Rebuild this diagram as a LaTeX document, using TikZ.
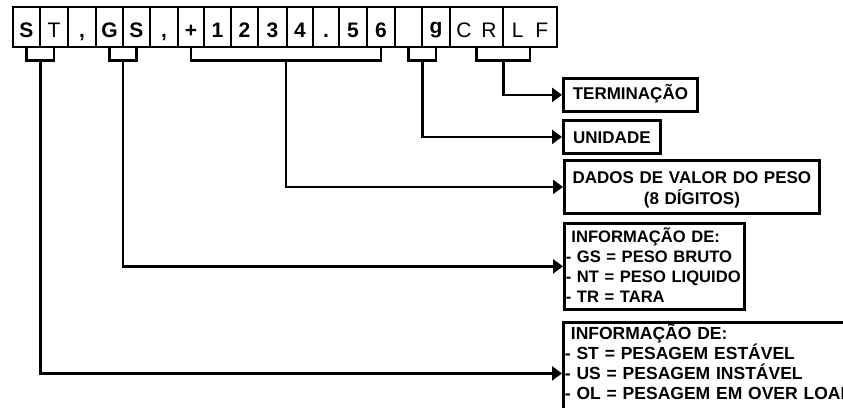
\documentclass[tikz,border=0pt]{standalone}
\usepackage{fontspec}
\setmainfont{Liberation Sans}
\usetikzlibrary{arrows.meta,calc}
\begin{document}
\begin{tikzpicture}[x=1bp,y=-1bp,
  cell/.style={draw,line width=2.8bp,inner sep=0pt,text height=30bp,text depth=10bp,
    font=\fontsize{21bp}{24bp}\selectfont\bfseries},
  link/.style={line width=2.8bp},
  arr/.style={line width=2.8bp,-{Triangle[length=10bp,width=14bp]}},
  lbl/.style={draw,line width=2.8bp,inner xsep=1.5bp,inner ysep=0pt,anchor=north west,
    font=\fontsize{17bp}{20bp}\selectfont\bfseries}]
\useasboundingbox (0,0) rectangle (843,407);
\clip (0,0) rectangle (843,407);
% top row of characters
\foreach \n/\x/\w/\t in {1/26.5/27/S, 2/54/28/{\mdseries T}, 3/82/28/{,}, 4/109.5/27/G,
  5/136.5/27/S, 6/164/28/{,}, 7/191/26/+, 8/217.5/27/1, 9/244.5/27/2, 10/272.5/29/3,
  11/300/26/4, 12/326/26/., 13/353/28/5, 14/381/28/6, 15/408.5/27/{}, 16/436/28/{\raisebox{4bp}{g}},
  17/476.5/53/{\mdseries C\hspace{10bp}R}, 18/530/54/{\mdseries L\hspace{12bp}F}}
  \node[cell,minimum width=\w bp] (c\n) at (\x,27) {\t};
% description boxes
\node[lbl,minimum width=134bp,text height=21bp,text depth=12bp] (term) at (562,77) {TERMINAÇÃO};
\node[lbl,minimum width=97bp,text height=23bp,text depth=10bp] (unit) at (562,119) {UNIDADE};
\node[lbl,font=\fontsize{17bp}{21bp}\selectfont\bfseries,text width=252bp,align=center,
  text height=23bp,text depth=30bp] (dados) at (563,159)
  {DADOS DE VALOR DO PESO\\(8 DÍGITOS)\hspace*{20bp}};
\node[lbl,font=\fontsize{16.6bp}{20bp}\selectfont\bfseries,inner xsep=0pt,text width=180bp,
  align=left,text height=19bp,text depth=67bp] (gs) at (563,222)
  {\mbox{\hspace*{7bp}INFORMAÇÃO DE:}\\\mbox{\hspace*{1.5bp}- GS = PESO BRUTO}\\
   \mbox{\hspace*{1.5bp}- NT = PESO LIQUIDO}\\\mbox{\hspace*{1.5bp}- TR = TARA}};
\node[lbl,font=\fontsize{17.5bp}{20bp}\selectfont\bfseries,text width=297bp,align=left,
  text height=17bp,text depth=85bp] (st) at (562,321)
  {\mbox{\hspace*{6bp}INFORMAÇÃO DE:}\\\mbox{- ST = PESAGEM ESTÁVEL}\\
   \mbox{- US = PESAGEM INSTÁVEL}\\\mbox{- OL = PESAGEM EM OVER LOAD}};
% brackets
\draw[link] (c1.south) -- ++(0,12) -| (c2.south);
\draw[link] (c4.south) -- ++(0,12) -| (c5.south);
\draw[link] (c7.south) -- ++(0,12) -| (c14.south);
\draw[link] (c15.south) -- ++(0,12) -| (c16.south);
\draw[link] (c17.south) -- ++(0,12) -| (c18.south);
% connectors
\draw[arr] ($(c17.south)!.5!(c18.south)+(0,12)$) |- (term.west);
\draw[arr] ($(c15.south)!.5!(c16.south)+(0,12)$) |- (unit.west);
\draw[arr] ($(c7.south)!.5!(c14.south)+(0,12)$) |- (dados.west);
\draw[arr] ($(c4.south)!.5!(c5.south)+(0,12)$) |- (gs.west);
\draw[arr] ($(c1.south)!.5!(c2.south)+(0,12)$) |- (st.west);
\end{tikzpicture}
\end{document}
